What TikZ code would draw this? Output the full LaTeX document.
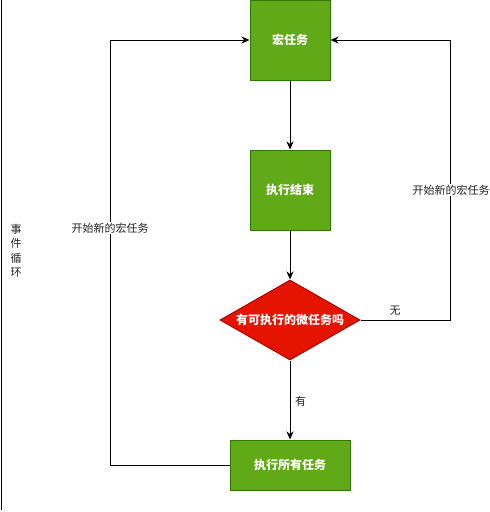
\documentclass[tikz,border=0pt]{standalone}
\usepackage{fontspec}
\setmainfont{Noto Sans CJK SC}
\usetikzlibrary{arrows.meta,shapes.geometric}
\definecolor{gfill}{HTML}{60A917}
\definecolor{gline}{HTML}{2D7600}
\definecolor{rfill}{HTML}{E51400}
\definecolor{rline}{HTML}{B20000}
\definecolor{txt}{HTML}{222222}
\tikzset{
  gbox/.style={draw=gline, fill=gfill, line width=1pt, text=white, inner sep=0pt,
    font=\fontsize{12pt}{14pt}\selectfont\bfseries},
  dia/.style={shape=diamond, draw=rline, fill=rfill, line width=1pt, text=white, inner sep=0pt,
    aspect=1.75, minimum width=140pt, minimum height=80pt, font=\fontsize{12pt}{14pt}\selectfont\bfseries},
  arr/.style={draw=black, line width=1pt, -{Stealth[length=8pt,width=7pt,inset=2.5pt]}},
  lbl/.style={text=txt, inner sep=1pt, font=\fontsize{11pt}{13pt}\selectfont},
  wlbl/.style={lbl, fill=white}
}
\begin{document}
\begin{tikzpicture}[x=1pt,y=-1pt]
\useasboundingbox (0,0) rectangle (490,512);
\fill[white] (0,0) rectangle (490,512);
% event loop marker line
\coordinate (lt) at (1,0);
\coordinate (lb) at (1,510);
\draw[line width=1pt] (lt) -- (lb);
\node[lbl, align=center, font=\fontsize{11pt}{14.5pt}\selectfont] (loop) at (16,251) {事\\件\\循\\环};
% nodes
\node[gbox, minimum width=80pt, minimum height=80pt] (macro) at (290,40) {宏任务};
\node[gbox, minimum width=80pt, minimum height=80pt] (done) at (290,190) {执行结束};
\node[dia] (q) at (290,320) {有可执行的微任务吗};
\node[gbox, minimum width=120pt, minimum height=50pt] (all) at (290,465) {执行所有任务};
\coordinate (L) at (110,0);
\coordinate (R) at (450,0);
% connectors
\draw[arr] (macro) -- (done);
\draw[arr] (done) -- (q);
\draw[arr] (q) -- (all);
\node[lbl, anchor=west] (yes) at (294,401) {有};
\draw[arr] (all.west) -| (L |- macro.west) -- (macro.west);
\node[wlbl] (newL) at (110,228) {开始新的宏任务};
\draw[arr] (q.east) -| (R |- macro.east) -- (macro.east);
\node[lbl] (no) at (395,311) {无};
\node[wlbl] (newR) at (451,190) {开始新的宏任务};
\end{tikzpicture}
\end{document}
